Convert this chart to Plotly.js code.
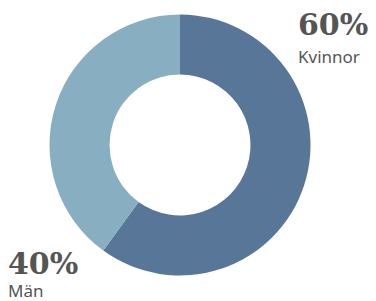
<!DOCTYPE html>
<html>
<head>
<meta charset="utf-8">
<script src="https://cdn.plot.ly/plotly-3.0.1.min.js"></script>
<style>html,body{margin:0;padding:0;background:#fff;}#chart{width:376px;height:301px;}</style>
</head>
<body>
<div id="chart"></div>
<script>
const categories = ["Kvinnor", "Män"];
const values = [60, 40];
const percentLabels = ["60%", "40%"];
const colors = ["#587697", "#88afc1"];

const W = 376, H = 301;
const px = x => x / W;
const py = y => (H - y) / H;

const data = [{
  type: "pie",
  labels: categories,
  values: values,
  sort: false,
  direction: "clockwise",
  rotation: 0,
  hole: 0.54,
  textinfo: "none",
  hoverinfo: "label+percent",
  marker: {colors: colors, line: {width: 0}},
  domain: {x: [px(180 - 130.5), px(180 + 130.5)], y: [py(145 + 130.5), py(145 - 130.5)]},
  showlegend: false
}];

const pctFont = {family: "DejaVu Serif", size: 30, color: "#555555", weight: "bold"};
const catFont = {family: "Noto Sans", size: 17, color: "#555555"};

const layout = {
  width: W, height: H,
  margin: {l: 0, r: 0, t: 0, b: 0},
  paper_bgcolor: "#ffffff",
  showlegend: false,
  annotations: [
    {text: "<b>" + percentLabels[0] + "</b>", xref: "paper", yref: "paper", x: px(297), y: py(25), xanchor: "left", yanchor: "middle", showarrow: false, borderpad: 0, font: pctFont},
    {text: categories[0], xref: "paper", yref: "paper", x: px(297), y: py(56), xanchor: "left", yanchor: "middle", showarrow: false, borderpad: 0, font: catFont},
    {text: "<b>" + percentLabels[1] + "</b>", xref: "paper", yref: "paper", x: px(7), y: py(263), xanchor: "left", yanchor: "middle", showarrow: false, borderpad: 0, font: pctFont},
    {text: categories[1], xref: "paper", yref: "paper", x: px(7), y: py(290), xanchor: "left", yanchor: "middle", showarrow: false, borderpad: 0, font: catFont}
  ]
};

Plotly.newPlot("chart", data, layout, {displayModeBar: false, staticPlot: true});
</script>
</body>
</html>
